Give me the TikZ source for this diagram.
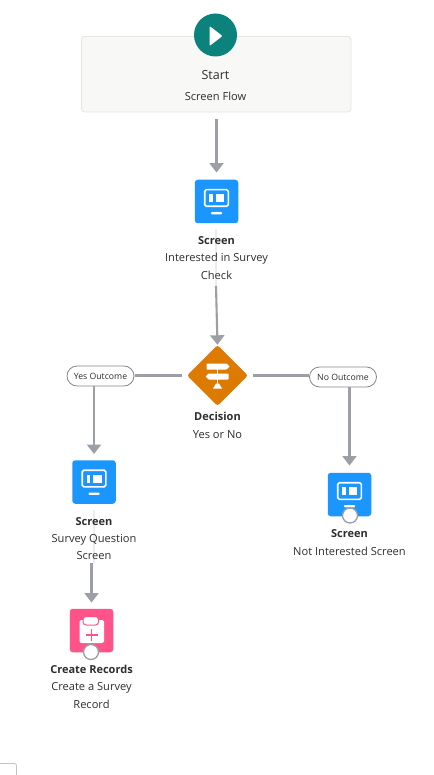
\documentclass[tikz,border=0pt]{standalone}
\usepackage{fontspec}
\setmainfont{Open Sans}
\usetikzlibrary{arrows.meta,shapes.geometric}
\definecolor{conn}{HTML}{9C9FA6}
\definecolor{faint}{HTML}{ECECEC}
\definecolor{cardfill}{HTML}{F8F8F6}
\definecolor{cardline}{HTML}{E5E5E5}
\definecolor{startgreen}{HTML}{0B827C}
\definecolor{screenblue}{HTML}{1B96FF}
\definecolor{decorange}{HTML}{DD7A01}
\definecolor{recpink}{HTML}{FF538A}
\definecolor{txt}{HTML}{2E2E2E}
\tikzset{
  x=1pt,y=-1pt,
  flowline/.style={draw=conn,line width=2.1pt},
  flowarrow/.style={flowline,-{Triangle[length=9.5pt,width=14pt]}},
  faintline/.style={draw=faint,line width=1.5pt},
  iconbox/.style={rectangle,rounded corners=3pt,minimum size=43.5pt,inner sep=0pt,draw=none},
  screenbox/.style={iconbox,fill=screenblue},
  recbox/.style={iconbox,fill=recpink},
  startcard/.style={rectangle,rounded corners=3pt,draw=cardline,fill=cardfill,line width=.8pt,minimum width=269.5pt,minimum height=75.5pt,inner sep=0pt},
  startdot/.style={circle,fill=startgreen,minimum size=43pt,inner sep=0pt},
  decbox/.style={diamond,fill=decorange,minimum size=61pt,inner sep=0pt,rounded corners=2.5pt},
  pill/.style={rectangle,rounded corners=10pt,draw=conn!85!black,fill=white,line width=.8pt,minimum width=67pt,minimum height=20pt,inner sep=0pt,font=\fontsize{8.7}{11}\selectfont,text=txt},
  endring/.style={circle,draw=conn,fill=white,line width=1.3pt,minimum size=15pt,inner sep=0pt},
  title/.style={font=\fontsize{11}{14}\selectfont\bfseries,text=txt,inner sep=0pt},
  plain/.style={font=\fontsize{11.1}{14}\selectfont,text=txt,inner sep=0pt},
  big/.style={font=\fontsize{12.5}{15}\selectfont,text=txt,inner sep=0pt},
}
\newcommand{\screenicon}[1]{%
  \begin{scope}[shift={(#1)}]
    \draw[white,line width=1.6pt,rounded corners=1.5pt] (-11.8,-11.8) rectangle (11.8,4.8);
    \fill[white] (-7.2,-7.5) rectangle (-3.9,0.5);
    \fill[white] (-0.8,-7.5) rectangle (7.7,0.5);
    \fill[white,rounded corners=.8pt] (-5.5,10.5) rectangle (5.5,12.8);
  \end{scope}}
\begin{document}
\begin{tikzpicture}
\useasboundingbox (0,0) rectangle (433,775);
\fill[white] (0,0) rectangle (433,775);

% faint connector traces beneath the labels
\coordinate (c1a) at (216,229);
\coordinate (c1b) at (216,286);
\coordinate (c2a) at (94,510);
\coordinate (c2b) at (92,563);
\draw[faintline] (c1a) -- (c1b);
\draw[faintline] (c2a) -- (c2a |- c2b);

% start
\node[startcard] (card) at (216.2,74.2) {};
\node[startdot] (startd) at (215.5,35) {};
\fill[white,rounded corners=1pt] (209.5,26) -- (222.5,36) -- (209.5,46) -- cycle;
\node[big] (startt) at (215.5,75) {Start};
\node[plain] (startl) at (215.5,96) {Screen Flow};

% screen 1
\node[screenbox] (s1) at (216.5,201.5) {};
\screenicon{s1}
\node[title] (s1t) at (216.5,240.6) {Screen};
\node[plain,align=center] (s1l) at (216.5,266) {Interested in Survey\\[3.8pt]Check};

% decision
\node[decbox] (dec) at (217.5,375.5) {};
\begin{scope}[shift={(dec)}]
  \fill[white] (-0.9,-12) rectangle (0.9,10);
  \fill[white,rounded corners=.6pt] (-11,-12) -- (9,-12) -- (12.3,-9) -- (9,-6) -- (-11,-6) -- cycle;
  \fill[white,rounded corners=.6pt] (11,-2) -- (-9,-2) -- (-12,1) -- (-9,4) -- (11,4) -- cycle;
  \fill[white] (-4.5,13) -- (4.5,13) -- (1.5,8) -- (-1.5,8) -- cycle;
\end{scope}
\node[title] (dect) at (217.5,416.3) {Decision};
\node[plain] (decl) at (217.5,434.6) {Yes or No};

% pills
\node[pill] (yes) at (100.5,376) {Yes Outcome};
\node[pill] (no) at (343,377) {No Outcome};

% screen 2
\node[screenbox] (s2) at (94,482) {};
\screenicon{s2}
\node[title] (s2t) at (94,521.6) {Screen};
\node[plain,align=center] (s2l) at (94,547) {Survey Question\\[3.8pt]Screen};

% screen 3
\node[screenbox] (s3) at (349.5,494.5) {};
\screenicon{s3}
\node[endring] (s3e) at (350,515.5) {};
\node[title] (s3t) at (349.5,533.6) {Screen};
\node[plain] (s3l) at (349.5,551) {Not Interested Screen};

% create records
\node[recbox] (rec) at (91.5,630.5) {};
\begin{scope}[shift={(rec)}]
  \fill[white,rounded corners=2pt] (-12,-10.5) rectangle (12.5,12.5);
  \fill[white,draw=recpink,line width=1pt,rounded corners=3pt] (-8.5,-14) rectangle (7,-5.5);
  \draw[recpink,line width=1.1pt] (-6,4.5) -- (6.5,4.5) (0.2,-1.5) -- (0.2,10.5);
\end{scope}
\node[endring] (rece) at (91,652) {};
\node[title] (rect) at (91.5,669) {Create Records};
\node[plain,align=center] (recl) at (91.5,695.5) {Create a Survey\\[3.8pt]Record};

% connectors
\draw[flowarrow,shorten <=7pt,shorten >=7pt] (card.south -| s1) -- (s1.north);
\draw[flowarrow] (c1b) -- (dec.north);
\draw[flowline,shorten >=.5pt,shorten <=5pt] (dec.west) -- (dec.west -| yes.east);
\draw[flowline,shorten >=.5pt,shorten <=5pt] (dec.east) -- (dec.east -| no.west);
\draw[flowarrow,shorten >=6pt] (yes.south -| s2) -- (s2.north);
\draw[flowarrow,shorten >=7pt] (no.south -| s3) -- (s3.north);
\draw[flowarrow,shorten >=6pt] (c2b -| rec) -- (rec.north);

% cut-off control at lower left
\draw[cardline!85!black,line width=.8pt,rounded corners=2pt] (-2,763.5) -- (16.5,763.5) -- (16.5,780);
\end{tikzpicture}
\end{document}
